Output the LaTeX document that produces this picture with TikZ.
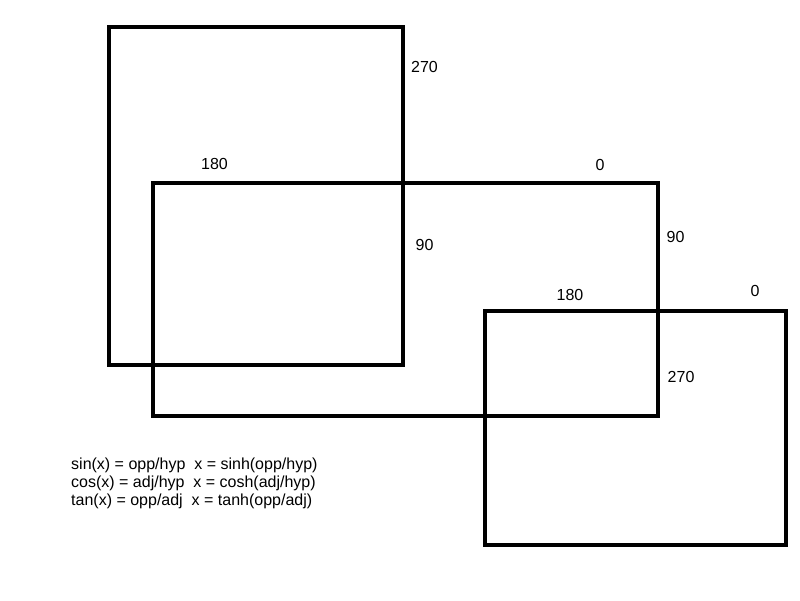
\documentclass[tikz,border=0pt]{standalone}
\usepackage{fontspec}
\setmainfont{Liberation Sans}
\begin{document}
\begin{tikzpicture}[x=1pt,y=-1pt,
  box/.style={draw=black,line width=4pt,line join=miter},
  lbl/.style={inner sep=0pt,anchor=base west,font=\fontsize{16}{18.4}\selectfont}]
\useasboundingbox[fill=white] (0,0) rectangle (800,600);
% rectangles
\draw[box] (109,27) rectangle (403.3,364.7);
\draw[box] (152.7,182.5) rectangle (658,416);
\draw[box] (485.3,310.7) rectangle (786,544.7);
% angle labels
\node[lbl] (a270a) at (411,72) {270};
\node[lbl] (a180a) at (201,169) {180};
\node[lbl] (a0a) at (595.5,170.5) {0};
\node[lbl] (a90a) at (415.5,250.5) {90};
\node[lbl] (a90b) at (666.5,242) {90};
\node[lbl] (a180b) at (556.5,300.5) {180};
\node[lbl] (a0b) at (750.5,296.5) {0};
\node[lbl] (a270b) at (667.5,382) {270};
% formulas
\node[lbl] (t1) at (71,469.5) {sin(x) = opp/hyp\ \ x = sinh(opp/hyp)};
\node[lbl] (t2) at (71,487.7) {cos(x) = adj/hyp\ \ x = cosh(adj/hyp)};
\node[lbl] (t3) at (71,505.9) {tan(x) = opp/adj\ \ x = tanh(opp/adj)};
\end{tikzpicture}
\end{document}
